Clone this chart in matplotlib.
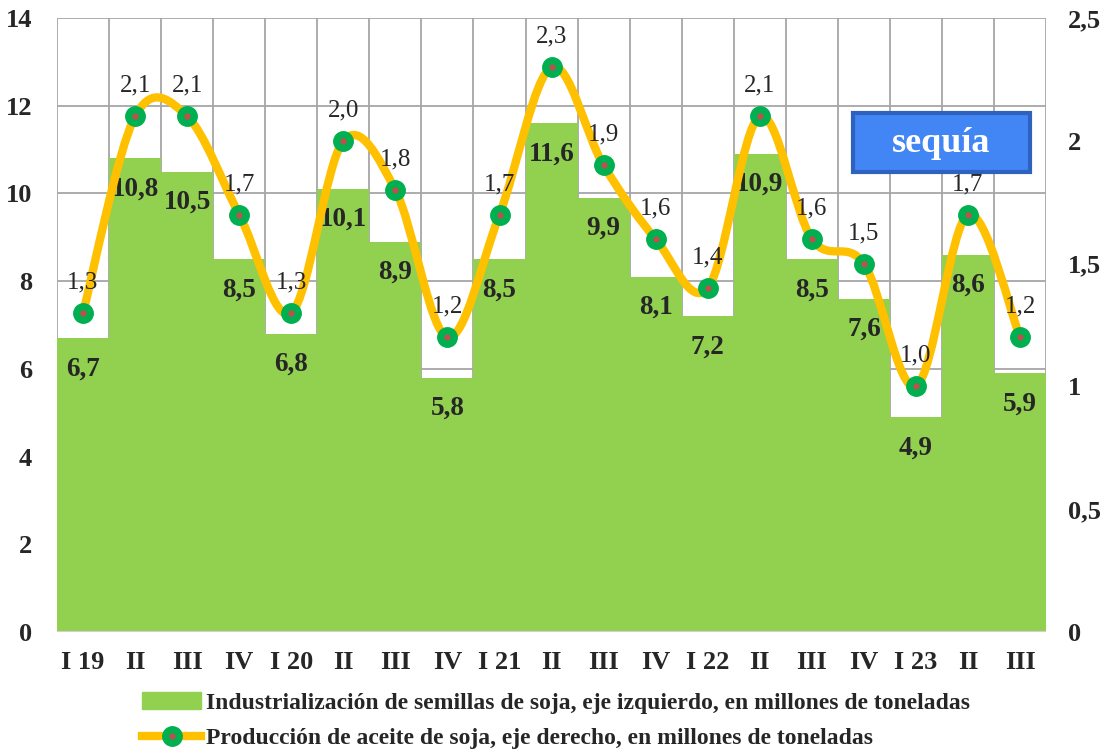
import numpy as np
import matplotlib
matplotlib.use('Agg')
import matplotlib.pyplot as plt
from matplotlib.path import Path
from matplotlib.patches import PathPatch, Rectangle, Patch
from matplotlib.lines import Line2D

plt.rcParams['font.family'] = ['Liberation Serif', 'DejaVu Serif']

quarters = ['I 19', 'II', 'III', 'IV', 'I 20', 'II', 'III', 'IV', 'I 21', 'II',
            'III', 'IV', 'I 22', 'II', 'III', 'IV', 'I 23', 'II', 'III']
semillas = [6.7, 10.8, 10.5, 8.5, 6.8, 10.1, 8.9, 5.8, 8.5, 11.6,
            9.9, 8.1, 7.2, 10.9, 8.5, 7.6, 4.9, 8.6, 5.9]
aceite = [1.3, 2.1, 2.1, 1.7, 1.3, 2.0, 1.8, 1.2, 1.7, 2.3,
          1.9, 1.6, 1.4, 2.1, 1.6, 1.5, 1.0, 1.7, 1.2]

txt = '#262626'
green = '#92D050'
gold = '#FFC000'

fig = plt.figure(figsize=(11.07, 7.53), dpi=100)
ax = fig.add_axes([0.0515, 0.1607, 0.8935, 0.8153])
ax2 = ax.twinx()

x = np.arange(len(quarters))
ax.bar(x, semillas, width=1.0, color=green, zorder=2)
ax.set_xlim(-0.5, len(quarters) - 0.5)
ax.set_ylim(0, 14)
ax.set_yticks(range(0, 15, 2))
ax.set_xticks(x)
ax.set_xticklabels(quarters)

for yv in range(2, 15, 2):
    ax.axhline(yv, color='#a6a6a6', lw=1.3, zorder=1)
for xv in np.arange(-0.5, len(quarters), 1.0):
    ax.axvline(xv, color='#a6a6a6', lw=1.3, zorder=1)
for s in ax.spines.values():
    s.set_visible(False)
for s in ax2.spines.values():
    s.set_visible(False)
ax.axhline(0, color='#d0d0d0', lw=1.5, zorder=3)

ax.tick_params(length=0, labelsize=19, colors=txt, pad=14)
ax.tick_params(axis='y', pad=18)
for lb in ax.get_xticklabels() + ax.get_yticklabels():
    lb.set_fontweight('bold')

for i, v in enumerate(semillas):
    ax.annotate(('%.1f' % v).replace('.', ','), (i, v), xytext=(0, -22),
                textcoords='offset points', ha='center', va='center',
                fontsize=19.5, fontweight='bold', color=txt, zorder=4)

# smoothed line (Excel style Catmull-Rom bezier)
ax2.set_ylim(0, 2.5)
ax2.set_yticks([0, 0.5, 1, 1.5, 2, 2.5])
ax2.set_yticklabels(['0', '0,5', '1', '1,5', '2', '2,5'])
ax2.tick_params(length=0, labelsize=19, colors=txt, pad=16)
for lb in ax2.get_yticklabels():
    lb.set_fontweight('bold')

pts = np.column_stack([x, aceite]).astype(float)
ext = np.vstack([pts[0], pts, pts[-1]])
verts = [pts[0]]
codes = [Path.MOVETO]
for i in range(len(pts) - 1):
    p0, p1, p2, p3 = ext[i], ext[i + 1], ext[i + 2], ext[i + 3]
    c1 = p1 + (p2 - p0) / 6.0
    c2 = p2 - (p3 - p1) / 6.0
    verts += [c1, c2, p2]
    codes += [Path.CURVE4] * 3
ax2.add_patch(PathPatch(Path(verts, codes), fill=False, edgecolor=gold,
                        lw=6, capstyle='round', joinstyle='round', zorder=5))
ax2.plot(x, aceite, 'o', ms=14, color='#00B050', mec='#00B050', zorder=6)
ax2.plot(x, aceite, 'o', ms=3.5, color='#C0504D', mec='#C0504D', zorder=7)
for i, v in enumerate(aceite):
    ax2.annotate(('%.1f' % v).replace('.', ','), (i, v), xytext=(0, 22),
                 textcoords='offset points', ha='center', va='center',
                 fontsize=18, color=txt, zorder=8)

# sequia box
box = Rectangle((853 / 1107, 1 - 172 / 753), 177 / 1107, 59 / 753,
                transform=fig.transFigure, facecolor='#4285F4',
                edgecolor='#2E62BE', lw=3, zorder=10)
fig.patches.append(box)
fig.text(941.5 / 1107, 1 - 143 / 753, 'sequía', ha='center', va='center',
         fontsize=26, fontweight='bold', color='white', zorder=11)

line_h = Line2D([0], [0], color=gold, lw=6, marker='o', ms=14,
                mfc='#00B050', mec='#00B050')
dot_h = Line2D([0], [0], ls='none', marker='o', ms=3.5,
               mfc='#C0504D', mec='#C0504D')
handles = [Patch(facecolor=green, edgecolor=green), (line_h, dot_h)]
labels = ['Industrialización de semillas de soja, eje izquierdo, en millones de toneladas',
          'Producción de aceite de soja, eje derecho, en millones de toneladas']
leg = fig.legend(handles, labels, loc='upper left', bbox_to_anchor=(142 / 1107, 1 - 692 / 753),
                 frameon=False, prop={'size': 17, 'weight': 'bold'},
                 handlelength=2.5, handletextpad=0.2, labelspacing=0.6,
                 borderaxespad=0, borderpad=0)
for t in leg.get_texts():
    t.set_color(txt)

fig.savefig('out.png', dpi=100)
